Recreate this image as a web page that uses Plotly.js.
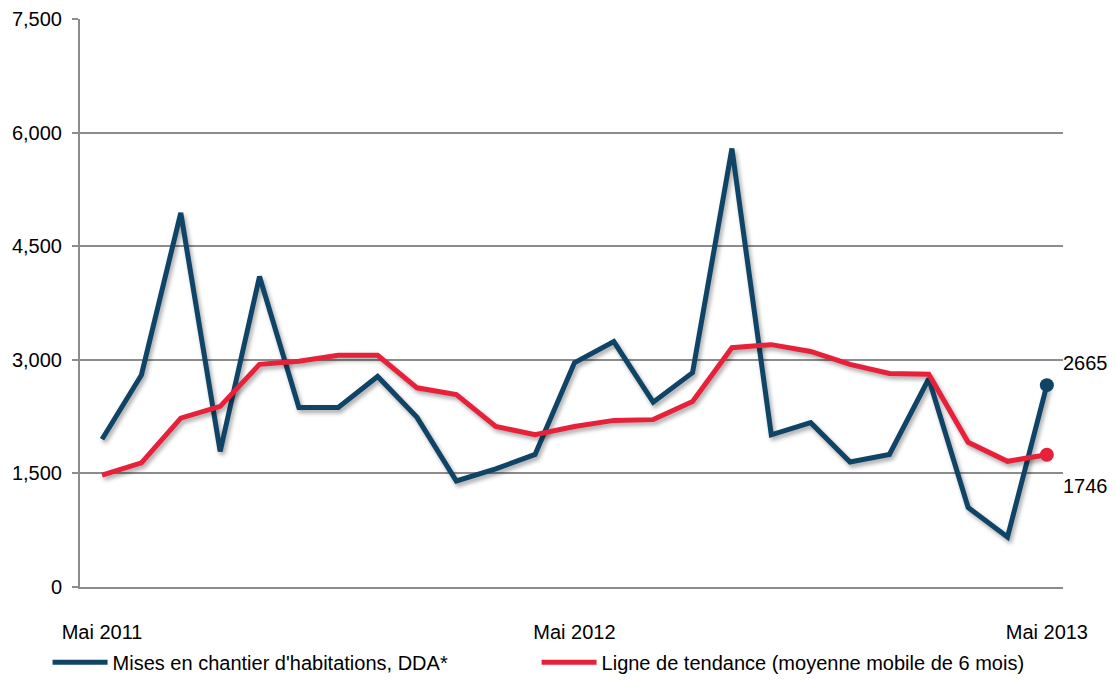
<!DOCTYPE html>
<html>
<head>
<meta charset="utf-8">
<script src="https://cdn.plot.ly/plotly-3.0.1.min.js"></script>
<style>
  html, body { margin: 0; padding: 0; background: #fff; }
  #chart { width: 1116px; height: 681px; }
  .scatterlayer .js-line { filter: drop-shadow(2px 3px 2px rgba(0,0,0,0.35)); }
</style>
</head>
<body>
<div id="chart"></div>
<script>
const months = ['Mai 2011','Juin 2011','Juil 2011','Août 2011','Sept 2011','Oct 2011','Nov 2011','Déc 2011',
  'Janv 2012','Févr 2012','Mars 2012','Avr 2012','Mai 2012','Juin 2012','Juil 2012','Août 2012','Sept 2012',
  'Oct 2012','Nov 2012','Déc 2012','Janv 2013','Févr 2013','Mars 2013','Avr 2013','Mai 2013'];
const misesEnChantier = [1950, 2800, 4940, 1790, 4100, 2370, 2370, 2780, 2240, 1400, 1560, 1750, 2960,
  3240, 2440, 2830, 5790, 2010, 2170, 1650, 1750, 2750, 1050, 660, 2665];
const tendance = [1476, 1640, 2230, 2385, 2940, 2980, 3060, 3060, 2630, 2540, 2120, 2010, 2120,
  2200, 2210, 2450, 3160, 3200, 3110, 2940, 2820, 2810, 1910, 1660, 1746];
const xTickLabels = ['Mai 2011', 'Mai 2012', 'Mai 2013'];
const yTicks = [0, 1500, 3000, 4500, 6000, 7500];
const seriesNames = ["Mises en chantier d'habitations, DDA*", 'Ligne de tendance (moyenne mobile de 6 mois)'];

const BLUE = '#0f4466';
const RED = '#e8213a';
const GRID = '#8c8c8c';
const FONT = 'Liberation Sans, Arial, sans-serif';
const last = months.length - 1;

const traces = [
  {
    x: months, y: misesEnChantier, name: seriesNames[0], type: 'scatter', mode: 'lines',
    line: { color: BLUE, width: 5 }
  },
  {
    x: months, y: tendance, name: seriesNames[1], type: 'scatter', mode: 'lines',
    line: { color: RED, width: 5 }
  },
  {
    x: [months[last]], y: [misesEnChantier[last]], type: 'scatter', mode: 'markers', showlegend: false,
    marker: { color: BLUE, size: 14 }
  },
  {
    x: [months[last]], y: [tendance[last]], type: 'scatter', mode: 'markers', showlegend: false,
    marker: { color: RED, size: 14 }
  }
];

const layout = {
  width: 1116, height: 681,
  margin: { l: 80, r: 53, t: 19, b: 94, autoexpand: false },
  paper_bgcolor: '#fff', plot_bgcolor: '#fff',
  font: { family: FONT, size: 20, color: '#000' },
  showlegend: true,
  legend: {
    orientation: 'h', x: -0.033, xanchor: 'left', y: -0.098, yanchor: 'top',
    font: { family: FONT, size: 20, color: '#000' },
    itemwidth: 55, entrywidth: 419, traceorder: 'normal', itemclick: false
  },
  xaxis: {
    type: 'category', range: [-0.56, 24.41],
    tickmode: 'array', tickvals: xTickLabels, ticktext: xTickLabels,
    showgrid: false, zeroline: false, showline: true, linecolor: GRID, linewidth: 2, ticks: '',
    ticklabelstandoff: 26, tickfont: { family: FONT, size: 20, color: '#000' }
  },
  yaxis: {
    range: [0, 7500], tickmode: 'array', tickvals: yTicks,
    tickformat: ',d', showgrid: true, gridcolor: GRID, gridwidth: 2,
    zeroline: false, showline: true, linecolor: GRID, linewidth: 2,
    ticks: 'outside', ticklen: 6, tickcolor: GRID, tickwidth: 2,
    ticklabelstandoff: 6, tickfont: { family: FONT, size: 20, color: '#000' }
  },
  annotations: [
    { x: months[last], y: misesEnChantier[last], text: String(misesEnChantier[last]), showarrow: false,
      xanchor: 'left', yanchor: 'middle', xshift: 14, yshift: 22, font: { family: FONT, size: 20, color: '#000' } },
    { x: months[last], y: tendance[last], text: String(tendance[last]), showarrow: false,
      xanchor: 'left', yanchor: 'middle', xshift: 14, yshift: -31, font: { family: FONT, size: 20, color: '#000' } }
  ]
};

Plotly.newPlot('chart', traces, layout, { displayModeBar: false, staticPlot: true });
</script>
</body>
</html>
